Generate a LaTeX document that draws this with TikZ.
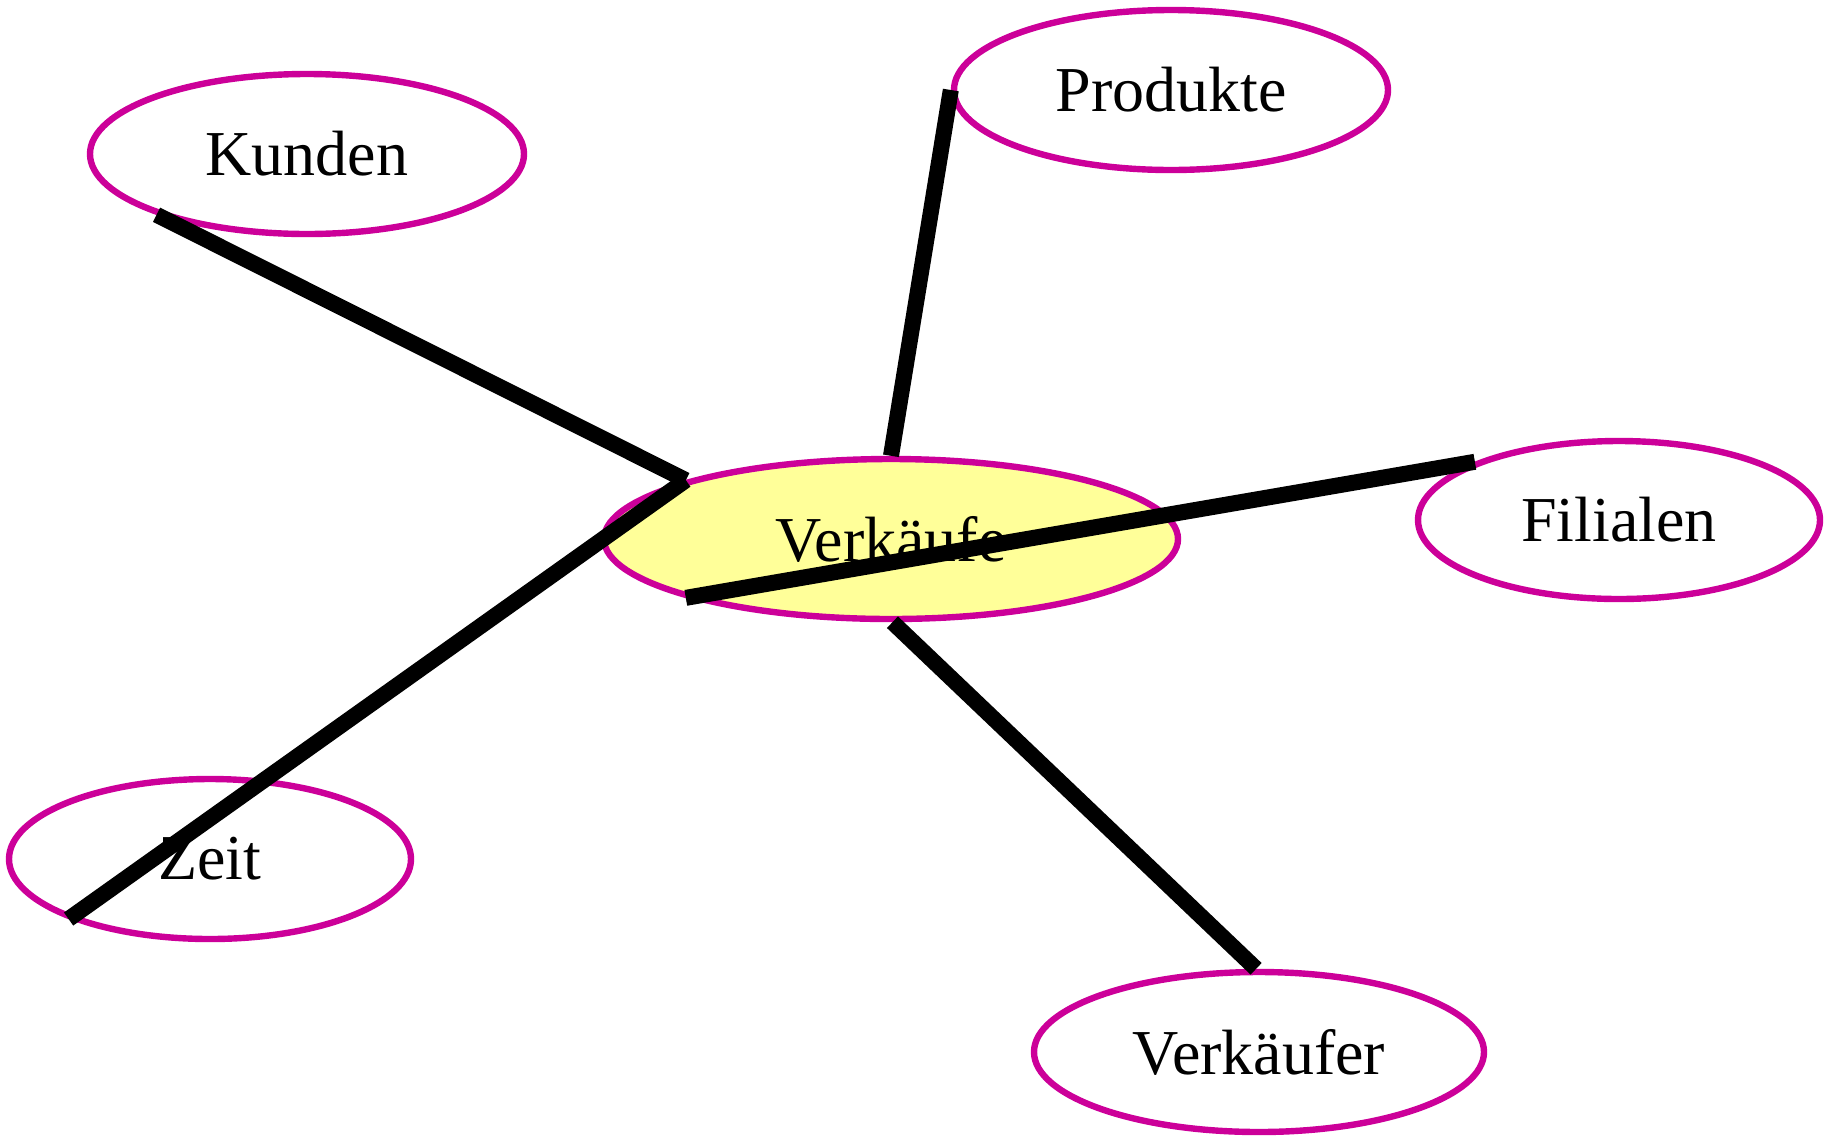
\documentclass[tikz,border=0pt]{standalone}
\usepackage{fontspec}
\setmainfont{Liberation Serif}
\usetikzlibrary{shapes.geometric}
\definecolor{edgemag}{RGB}{204,0,153}
\definecolor{paleyellow}{RGB}{255,255,153}
\begin{document}
\begin{tikzpicture}[x=0.5pt,y=-0.5pt,
  entity/.style={ellipse, draw=edgemag, line width=3.2pt, inner sep=0pt, fill=white,
    minimum height=80pt, font=\fontsize{32}{38}\selectfont},
  conn/.style={draw=black, line width=8pt, line cap=butt}]
\useasboundingbox (0,0) rectangle (1835,1136);
\node[entity, minimum width=217pt] (kunden) at (307,154) {Kunden};
\node[entity, minimum width=217pt] (produkte) at (1171,90) {Produkte};
\node[entity, fill=paleyellow, minimum width=287pt] (verk) at (891,539) {Verkäufe};
\node[entity, minimum width=201pt, minimum height=79pt] (filialen) at (1619,520) {Filialen};
\node[entity, minimum width=201pt] (zeit) at (210,859) {Zeit};
\node[entity, minimum width=225pt] (verkaeufer) at (1259,1052) {Verkäufer};
\draw[conn] (kunden.202) -- (verk.164);
\draw[conn] (verk.164) -- (zeit.203);
\draw[conn] (produkte.180) -- (verk.90);
\draw[conn] (filialen.158) -- (verk.196);
\draw[conn] (verk.271) -- (verkaeufer.92);
\end{tikzpicture}
\end{document}
